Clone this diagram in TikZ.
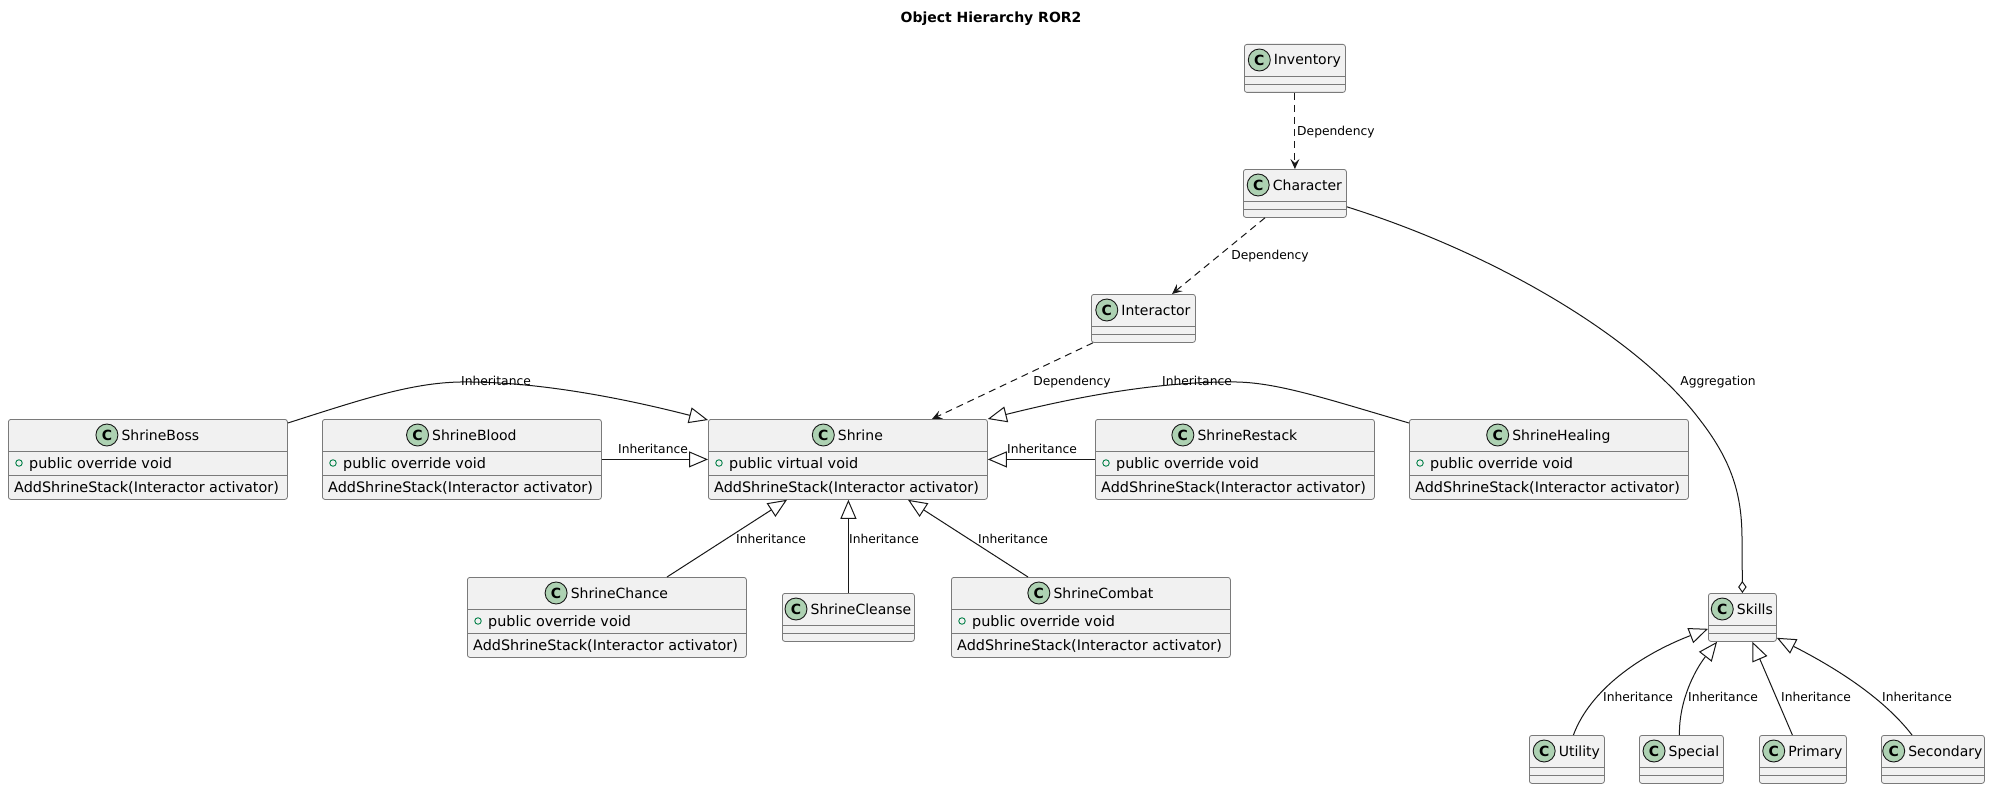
\documentclass[tikz,border=0pt]{standalone}
\usepackage{fontspec}
\setmainfont{DejaVu Sans}
\usetikzlibrary{arrows.meta,calc}

\definecolor{linec}{HTML}{181818}
\definecolor{boxline}{HTML}{7A7A7A}
\definecolor{boxfill}{HTML}{F1F1F1}
\definecolor{badgefill}{HTML}{ADD1B2}
\definecolor{visgreen}{HTML}{038048}

\tikzset{
  classbox/.style={draw=boxline, line width=0.8pt, fill=boxfill, rounded corners=2.5pt, inner sep=0pt},
  divider/.style={draw=boxline, line width=0.8pt},
  cname/.style={inner sep=0pt, text height=10pt, text depth=0pt, font=\fontsize{14}{16}\selectfont},
  badge/.style={circle, draw=linec, line width=0.9pt, fill=badgefill, minimum size=22pt, inner sep=0pt,
    font=\bfseries\fontsize{14}{14}\selectfont},
  vis/.style={circle, draw=visgreen, line width=0.9pt, minimum size=6.5pt, inner sep=0pt},
  member/.style={anchor=west, inner sep=0pt, text height=10pt, text depth=0pt, font=\fontsize{14.4}{16}\selectfont},
  lbl/.style={inner sep=0pt, text height=9pt, text depth=0pt, font=\fontsize{12.3}{14}\selectfont},
  ttl/.style={inner sep=0pt, text height=10pt, text depth=0pt, font=\bfseries\fontsize{14}{16}\selectfont},
  conn/.style={draw=linec, line width=1pt},
  dep/.style={conn, dash pattern=on 7pt off 5pt, -{Stealth[length=10pt, width=9pt, inset=4pt]}},
  inh/.style={conn, -{Triangle[open, length=19pt, width=16pt, fill=white]}},
  agg/.style={conn, -{Diamond[open, length=12pt, width=8.5pt, fill=white]}},
}

% class with one field and one method: name, left, top, width, title, field, method
\newcommand\memberclass[7]{%
  \node[classbox, minimum width=#4pt, minimum height=80pt, anchor=north west] (#1) at (#2,#3) {};
  \draw[divider] ([yshift=-32pt]#1.north west) -- ([yshift=-32pt]#1.north east);
  \draw[divider] ([yshift=-56pt]#1.north west) -- ([yshift=-56pt]#1.north east);
  \node[cname] (#1-name) at ([xshift=12.5pt, yshift=-16pt]#1.north) {#5};
  \node[badge, anchor=east] (#1-badge) at ([xshift=-3pt]#1-name.west) {C};
  \node[vis] (#1-vis) at ([xshift=11pt, yshift=-44pt]#1.north west) {};
  \node[member] (#1-field) at ([xshift=21pt, yshift=-44pt]#1.north west) {#6};
  \node[member] (#1-method) at ([xshift=6pt, yshift=-68pt]#1.north west) {#7};
}

% class with empty field and method compartments: name, left, top, width, title
\newcommand\plainclass[5]{%
  \node[classbox, minimum width=#4pt, minimum height=48pt, anchor=north west] (#1) at (#2,#3) {};
  \draw[divider] ([yshift=-32pt]#1.north west) -- ([yshift=-32pt]#1.north east);
  \draw[divider] ([yshift=-40pt]#1.north west) -- ([yshift=-40pt]#1.north east);
  \node[cname] (#1-name) at ([xshift=12.5pt, yshift=-16pt]#1.north) {#5};
  \node[badge, anchor=east] (#1-badge) at ([xshift=-3pt]#1-name.west) {C};
}

\begin{document}
\begin{tikzpicture}[x=1pt, y=-1pt]
\path[use as bounding box, fill=white] (0,0) rectangle (1994,789);

\node[ttl] (title) at (991,18) {Object Hierarchy ROR2};

% top chain
\plainclass{inventory}{1244}{44}{101}{Inventory}
\plainclass{character}{1243}{169}{103}{Character}
\plainclass{interactor}{1091}{294}{104}{Interactor}

% shrine family
\memberclass{boss}{8}{419}{279}{ShrineBoss}{public override void}{AddShrineStack(Interactor activator)}
\memberclass{blood}{322}{419}{279}{ShrineBlood}{public override void}{AddShrineStack(Interactor activator)}
\memberclass{shrine}{708}{419}{279}{Shrine}{public virtual void}{AddShrineStack(Interactor activator)}
\memberclass{restack}{1095}{419}{279}{ShrineRestack}{public override void}{AddShrineStack(Interactor activator)}
\memberclass{healing}{1409}{419}{279}{ShrineHealing}{public override void}{AddShrineStack(Interactor activator)}
\memberclass{chance}{467}{577}{279}{ShrineChance}{public override void}{AddShrineStack(Interactor activator)}
\plainclass{cleanse}{782}{593}{132}{ShrineCleanse}
\memberclass{combat}{951}{577}{279}{ShrineCombat}{public override void}{AddShrineStack(Interactor activator)}

% skills family
\plainclass{skills}{1708}{593}{68}{Skills}
\plainclass{utility}{1529}{735}{75}{Utility}
\plainclass{special}{1639}{735}{84}{Special}
\plainclass{primary}{1759}{735}{87}{Primary}
\plainclass{secondary}{1881}{735}{103}{Secondary}

% dependencies
\draw[dep] (inventory.south) -- (character.north);
\node[lbl, anchor=west] (l-inv) at (1297,131) {Dependency};
\draw[dep] ($(character.south west)+(22,0)$) -- ($(interactor.north west)+(81,0)$);
\node[lbl] (l-char) at (1270,255) {Dependency};
\draw[dep] ($(interactor.south west)+(2,0)$) -- ($(shrine.north west)+(224,0)$);
\node[lbl] (l-inter) at (1072,381) {Dependency};

% aggregation
\draw[agg] ($(character.south east)+(0,-11)$)
  .. controls (1500,255) and (1640,340) .. (1700,420)
  .. controls (1735,465) and (1742,500) .. (1742,540) -- (skills.north);
\node[lbl] (l-agg) at (1718,381) {Aggregation};

% inheritance into Shrine
\draw[inh] ($(boss.north east)+(0,4)$)
  .. controls (360,400) and (410,383) .. (460,382)
  .. controls (540,381) and (630,400) .. ($(shrine.north west)+(0,1)$);
\node[lbl] (l-boss) at (496,381) {Inheritance};
\draw[inh] (blood.east) -- (shrine.west);
\node[lbl] (l-blood) at (653,449) {Inheritance};
\draw[inh] (restack.west) -- (shrine.east);
\node[lbl] (l-restack) at (1042,449) {Inheritance};
\draw[inh] ($(healing.north west)+(0,4)$)
  .. controls (1330,400) and (1280,383) .. (1237,382)
  .. controls (1150,381) and (1060,401) .. (shrine.north east);
\node[lbl] (l-healing) at (1197,381) {Inheritance};
\draw[inh] ($(chance.north west)+(200,0)$) -- ($(shrine.south west)+(79,0)$);
\node[lbl] (l-chance) at (771,539) {Inheritance};
\draw[inh] (cleanse.north) -- (cleanse.north |- shrine.south);
\node[lbl] (l-cleanse) at (884,539) {Inheritance};
\draw[inh] ($(combat.north west)+(77,0)$) -- ($(shrine.south west)+(200,0)$);
\node[lbl] (l-combat) at (1013,539) {Inheritance};

% inheritance into Skills
\draw[inh] ($(utility.north)+(6.5,0)$) .. controls (1590,690) and (1640,655) .. ($(skills.south west)+(0,-13)$);
\node[lbl] (l-utility) at (1638,697) {Inheritance};
\draw[inh] ($(special.north)+(-2,0)$) .. controls (1679,700) and (1695,670) .. ($(skills.south west)+(9,0)$);
\node[lbl] (l-special) at (1723,697) {Inheritance};
\draw[inh] ($(primary.north)+(-10.5,0)$) -- ($(skills.south)+(10,0)$);
\node[lbl] (l-primary) at (1816,697) {Inheritance};
\draw[inh] ($(secondary.north west)+(31,0)$) .. controls (1885,700) and (1840,670) .. ($(skills.south east)+(0,-4)$);
\node[lbl] (l-secondary) at (1917,697) {Inheritance};

\end{tikzpicture}
\end{document}
